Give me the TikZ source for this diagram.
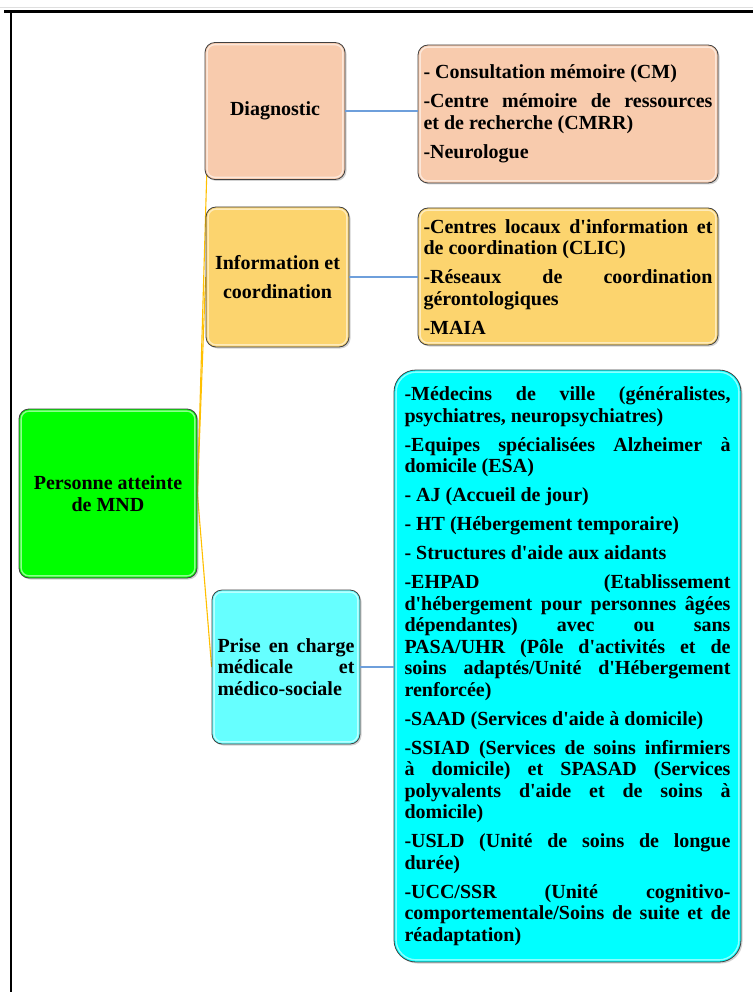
\documentclass[tikz,border=0pt]{standalone}
\usepackage{fontspec}
\setmainfont{Liberation Serif}[Ligatures=TeXOff]
\usetikzlibrary{shadows,backgrounds}
\definecolor{peach}{HTML}{F8CBAD}
\definecolor{boxgold}{HTML}{FCD46E}
\definecolor{boxgreen}{HTML}{00FF00}
\definecolor{cyanlight}{HTML}{66FFFF}
\definecolor{boxcyan}{HTML}{00FFFF}
\definecolor{linkgold}{HTML}{FFC000}
\definecolor{linkblue}{HTML}{6E9FDB}
\definecolor{edgegray}{HTML}{404040}
\newcommand\mybevel[2]{\draw[white,opacity=.55,line width=1.4pt,rounded corners=#2]
  ([xshift=2.5pt,yshift=-2.5pt]#1.north west) rectangle ([xshift=-2.5pt,yshift=2.5pt]#1.south east);}
\begin{document}
\begin{tikzpicture}[x=1pt,y=-1pt,
  box/.style={draw=edgegray, line width=0.8pt, rounded corners=10pt,
    drop shadow={shadow xshift=1.5pt, shadow yshift=-1.5pt, opacity=0.35},
    font={\bfseries\fontsize{20}{21.5}\selectfont\setlength\parskip{7.5pt}\parindent=0pt},
    inner ysep=0pt, anchor=center},
  conngold/.style={linkgold, line width=1.1pt},
  connblue/.style={linkblue, line width=2pt}]
\useasboundingbox (0,0) rectangle (753,992);
\draw[gray!25, line width=1pt] (0,8) -- (753,8);
\draw[line width=2.5pt] (4,11.5) -- (753,11.5);
\draw[line width=2.5pt] (11,11.5) -- (11,992);

% root
\node[box, fill=boxgreen, minimum width=178, minimum height=169, align=center] (root) at (108,493.5)
  {Personne atteinte\\de MND};
% middle
\node[box, fill=peach, minimum width=140, minimum height=137, align=center] (diag) at (275,111)
  {Diagnostic};
\node[box, fill=boxgold, minimum width=143, minimum height=140, align=center] (info) at (277.5,277)
  {Information et\\[8pt]coordination};
\node[box, fill=cyanlight, minimum width=148, minimum height=154, text width=137pt, inner xsep=5.5pt, align=justify] (prise) at (286,667)
  {Prise en charge\linebreak médicale et\linebreak médico-sociale};
% details
\node[box, fill=peach, minimum height=138, text width=289pt, inner xsep=5.5pt, align=justify] (diagd) at (568,114)
  {- Consultation mémoire (CM)\par
   -Centre mémoire de ressources\linebreak et de recherche (CMRR)\par
   -Neurologue};
\node[box, fill=boxgold, minimum height=137, text width=289pt, inner xsep=5.5pt, align=justify] (infod) at (568,276.5)
  {-Centres locaux d'information et\linebreak de coordination (CLIC)\par
   -Réseaux de coordination\linebreak gérontologiques\par
   -MAIA};
\node[box, fill=boxcyan, rounded corners=22pt, minimum height=592, text width=326pt, inner xsep=10.5pt, align=justify] (bigd) at (567.5,666)
  {-Médecins de ville (généralistes,\linebreak psychiatres, neuropsychiatres)\par
   -Equipes spécialisées Alzheimer à\linebreak domicile (ESA)\par
   - AJ (Accueil de jour)\par
   - HT (Hébergement temporaire)\par
   - Structures d'aide aux aidants\par
   -EHPAD (Etablissement\linebreak d'hébergement pour personnes âgées\linebreak dépendantes) avec ou sans\linebreak PASA/UHR (Pôle d'activités et de\linebreak soins adaptés/Unité d'Hébergement\linebreak renforcée)\par
   -SAAD (Services d'aide à domicile)\par
   -SSIAD (Services de soins infirmiers\linebreak à domicile) et SPASAD (Services\linebreak polyvalents d'aide et de soins à\linebreak domicile)\par
   -USLD (Unité de soins de longue\linebreak durée)\par
   -UCC/SSR (Unité cognitivo-\linebreak comportementale/Soins de suite et de\linebreak réadaptation)};

\mybevel{root}{8pt}
\mybevel{diag}{8pt}
\mybevel{info}{8pt}
\mybevel{prise}{8pt}
\mybevel{diagd}{8pt}
\mybevel{infod}{8pt}
\mybevel{bigd}{20pt}

\begin{pgfonlayer}{background}
\fill[white] (0,0) rectangle (753,992);
\draw[conngold] (root.east) -- ([xshift=4pt]diag.west);
\draw[conngold] (root.east) -- (info.west);
\draw[conngold] (root.east) -- (prise.west);
\end{pgfonlayer}
\draw[connblue] (diag.east) -- (diag.east -| diagd.west);
\draw[connblue] (info.east) -- (info.east -| infod.west);
\draw[connblue] (prise.east) -- (prise.east -| bigd.west);
\end{tikzpicture}
\end{document}
